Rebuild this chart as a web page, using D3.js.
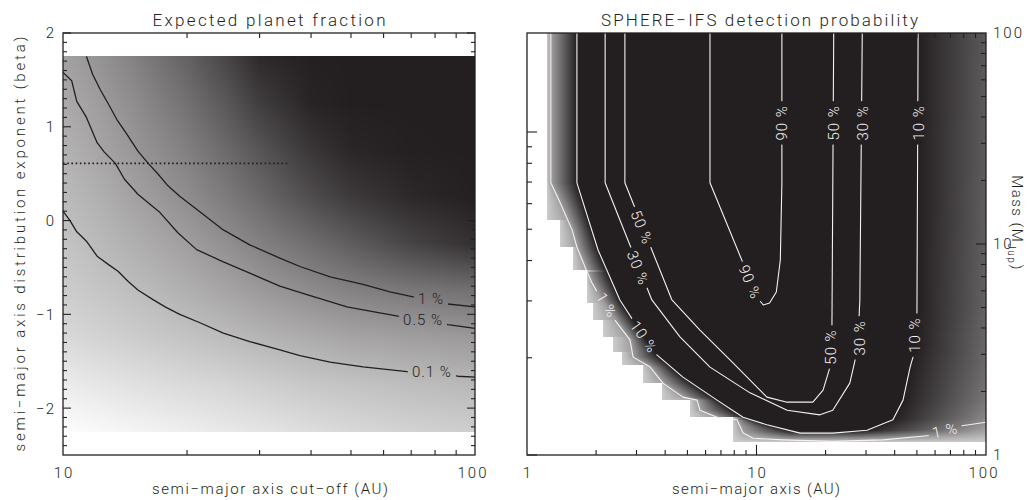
<!DOCTYPE html>
<html><head><meta charset="utf-8"><title>chart</title>
<script src="https://cdn.jsdelivr.net/npm/d3@7"></script>
<style>
html,body{margin:0;padding:0;background:#fff;}
svg{display:block}
text{font-family:Roboto,"Liberation Sans",Arial,sans-serif;font-weight:300;fill:#231f20}
</style></head><body>
<svg id="chart" width="1030" height="500"></svg>
<script>
// ===== Left panel: expected planet fraction =====
const fracAU = [10, 12, 15, 20, 25, 30, 40, 50, 70, 100];
const fracBeta = [1.75, 1.25, 0.75, 0.25, -0.25, -0.75, -1.25, -1.75, -2.25];
const fracShade = [
  [163,150,130,100, 72, 45, 36, 35, 35, 35],
  [172,160,142,115, 90, 65, 40, 35, 35, 35],
  [180,168,152,130,108, 88, 58, 42, 36, 35],
  [188,178,163,143,125,108, 80, 62, 44, 36],
  [197,188,176,160,145,132,112, 96, 72, 52],
  [206,199,190,177,166,156,142,132,122,115],
  [218,212,205,196,189,182,173,166,160,155],
  [236,231,225,218,213,208,200,196,190,185],
  [253,249,244,238,233,229,222,217,211,207]];
const frac1pct = [[11.4,1.75],[11.8,1.56],[12.3,1.40],[12.9,1.24],[13.5,1.08],[14.3,0.92],[15.2,0.74],[16.1,0.61],[16.9,0.51],[17.9,0.38],[19.2,0.26],[21.1,0.12],[24.5,-0.10],[28.4,-0.26],[33.6,-0.40],[37.6,-0.49],[44.5,-0.60],[53.5,-0.68],[62.2,-0.76],[70.3,-0.81],[78,-0.85],[85.9,-0.89],[100,-0.92]];
const frac05pct = [[10,1.58],[10.5,1.49],[10.8,1.27],[11.4,1.10],[12.1,0.83],[12.6,0.73],[13.4,0.61],[14.1,0.44],[15.2,0.28],[15.8,0.22],[17.2,0.085],[19.0,-0.13],[21.1,-0.31],[24.5,-0.44],[28.4,-0.56],[33.6,-0.70],[39.1,-0.79],[48.9,-0.92],[57.8,-0.98],[65.0,-1.02],[75,-1.06],[85.9,-1.11],[100,-1.15]];
const frac01pct = [[10,0.10],[10.4,0.0],[10.8,-0.12],[11.4,-0.22],[12.1,-0.38],[12.9,-0.47],[13.6,-0.54],[14.4,-0.65],[15.2,-0.74],[16.5,-0.84],[17.7,-0.92],[19.2,-1.00],[21.5,-1.09],[24.5,-1.20],[28.4,-1.29],[33.6,-1.38],[37.6,-1.44],[44.5,-1.51],[53.5,-1.56],[68.4,-1.61],[78,-1.63],[91,-1.66],[100,-1.67]];
const refBeta = 0.61;
const refAU = [10, 35.5];
const fracLabels = [["1 %",78.2,-0.83,0],["0.5 %",74.8,-1.06,0],["0.1 %",78.6,-1.61,0]];

// ===== Right panel: SPHERE-IFS detection probability =====
const det1 = [[1.27,100],[1.27,19.5],[1.39,15.8],[1.44,14.5],[1.57,11.7],[1.65,9.68],[1.79,7.78],[1.92,6.53],[2.08,5.61],[2.30,4.71],[2.47,4.22],[2.81,3.51],[2.90,2.91],[3.44,2.61],[3.91,2.19],[4.78,1.88],[5.51,1.82],[5.67,1.63],[6.73,1.51],[8.22,1.47],[8.74,1.27],[9.66,1.20],[13.0,1.18],[21.5,1.16],[35.6,1.18],[58.7,1.24],[66.3,1.30],[73.3,1.36],[100,1.43]];
const det10 = [[1.65,100],[1.65,19.5],[2.04,9.37],[2.54,5.43],[3.23,3.63],[3.68,2.98],[4.78,2.34],[6.73,1.82],[8.74,1.51],[11.1,1.39],[15.5,1.27],[21.5,1.27],[30.3,1.31],[39.3,1.47],[43.5,1.82],[46.7,2.61],[49.1,3.15],[50.0,4.36],[50.6,100]];
const det30 = [[2.19,100],[2.19,19.5],[2.54,13.0],[3.50,5.43],[4.64,3.63],[6.27,2.61],[9.37,1.97],[13.6,1.63],[18.9,1.55],[21.5,1.63],[25.5,2.19],[26.9,2.82],[27.7,3.51],[28.2,5.43],[28.9,100]];
const det50 = [[2.67,100],[2.67,19.5],[4.28,5.43],[5.67,3.91],[7.90,2.73],[11.1,1.88],[13.6,1.78],[17.6,1.78],[19.5,2.03],[20.9,2.61],[21.3,3.51],[21.7,100]];
const det90 = [[6.27,100],[6.27,19.5],[10.05,5.61],[10.7,5.14],[11.4,5.25],[12.2,5.92],[12.7,8.40],[12.9,19.5],[12.9,100]];
const detLabels = [
  ["1 %",2.23,5.14,58],["1 %",66.3,1.31,-12],
  ["10 %",3.23,3.63,55],["10 %",49.0,3.70,-90],["10 %",50.6,37.5,-90],
  ["30 %",3.05,7.70,68],["30 %",28.0,3.59,-90],["30 %",28.9,37.5,-90],
  ["50 %",3.17,12.0,68],["50 %",21.1,3.25,-90],["50 %",21.7,37.5,-90],
  ["90 %",9.37,6.61,67],["90 %",12.9,37.5,-90]];
// white (no-data) staircase: lower mass bound of each step and AU where data begins
const stairMassLo = [13.0, 9.68, 7.53, 5.25, 4.36, 3.63, 3.08, 2.67, 2.19, 1.82, 1.51, 1.15];
const stairEdgeAU = [1.22, 1.39, 1.59, 1.83, 1.94, 2.14, 2.37, 2.59, 3.20, 3.87, 5.13, 7.90];
// shade at the 100 AU edge vs mass
const rimMass = [100, 19.5, 5.25, 2.67, 1.82, 1.51, 1.39, 1.30, 1.15];
const rimShade = [92, 95, 100, 108, 120, 135, 150, 165, 200];
const edgeShade = 205, onePctShade = 160, blackShade = 35;

// tick values
const decadeMinor = [2,3,4,5,6,7,8,9,20,30,40,50,60,70,80,90];
const leftXLabels = [10, 100];
const betaMajor = [2, 1, 0, -1, -2];
const rightXLabels = [1, 10, 100];
const massLabels = [100, 10, 1];
const secMinor = [2,3,4,5,6,7,8,9];
const secMajor = [1, 10];

// ===== scales =====
const xL = d3.scaleLog().domain([10,100]).range([63,475]);
const yL = d3.scaleLinear().domain([-2.5,2.0]).range([455,33]);
const xR = d3.scaleLog().domain([1,100]).range([527,986]);
const yR = d3.scaleLog().domain([1,100]).range([455,33]);
const ySec = d3.scaleLog().domain([1,10]).range([455,132]);

const svg = d3.select("#chart");
const ink = "#231f20";
function rgbOf(g){ g=Math.max(35,Math.min(255,g)); const t=(g-35)/220;
  return [35+220*t, 31+224*t, 32+223*t]; }

// ===== left raster =====
(function(){
  const x0=Math.round(xL(10)), x1=Math.round(xL(100));
  const y0=Math.round(yL(fracBeta[0])), y1=Math.round(yL(fracBeta[fracBeta.length-1]));
  const w=x1-x0, h=y1-y0;
  const cv=document.createElement("canvas"); cv.width=w; cv.height=h;
  const ctx=cv.getContext("2d"); const img=ctx.createImageData(w,h);
  const lc=fracAU.map(Math.log10);
  for(let py=0;py<h;py++){
    const b=yL.invert(y0+py+0.5);
    let j=0; while(j<fracBeta.length-2 && b<fracBeta[j+1]) j++;
    let t=(fracBeta[j]-b)/(fracBeta[j]-fracBeta[j+1]); t=Math.max(0,Math.min(1,t));
    for(let px=0;px<w;px++){
      const la=Math.log10(xL.invert(x0+px+0.5));
      let i=0; while(i<lc.length-2 && la>lc[i+1]) i++;
      let u=(la-lc[i])/(lc[i+1]-lc[i]); u=Math.max(0,Math.min(1,u));
      const g=(fracShade[j][i]*(1-u)+fracShade[j][i+1]*u)*(1-t)+(fracShade[j+1][i]*(1-u)+fracShade[j+1][i+1]*u)*t;
      const c=rgbOf(g), k=(py*w+px)*4;
      img.data[k]=c[0]; img.data[k+1]=c[1]; img.data[k+2]=c[2]; img.data[k+3]=255;
    }
  }
  ctx.putImageData(img,0,0);
  svg.append("image").attr("x",x0).attr("y",y0).attr("width",w).attr("height",h)
    .attr("preserveAspectRatio","none").attr("href",cv.toDataURL());
})();

// ===== right raster =====
function cross(pts, M, side){
  const im=d3.minIndex(pts,d=>d[1]);
  const br= side==="L" ? pts.slice(0,im+1) : pts.slice(im);
  const lm=Math.log10(M);
  for(let k=0;k<br.length-1;k++){
    const m0=Math.log10(br[k][1]), m1=Math.log10(br[k+1][1]);
    if((lm<=m0&&lm>=m1)||(lm>=m0&&lm<=m1)){
      const a0=Math.log10(br[k][0]), a1=Math.log10(br[k+1][0]);
      if(m0===m1) return a0;
      return a0+(lm-m0)/(m1-m0)*(a1-a0);
    }
  }
  return null;
}
function interpLog(ms, vs, M){
  const lm=Math.log10(M);
  for(let k=0;k<ms.length-1;k++){
    const m0=Math.log10(ms[k]), m1=Math.log10(ms[k+1]);
    if(lm<=m0&&lm>=m1) return vs[k]+(lm-m0)/(m1-m0)*(vs[k+1]-vs[k]);
  }
  return lm>Math.log10(ms[0])?vs[0]:vs[vs.length-1];
}
(function(){
  const x0=Math.round(xR(1)), x1=Math.round(xR(100)), y0=Math.round(yR(100)), y1=Math.round(yR(1));
  const w=x1-x0, h=y1-y0;
  const cv=document.createElement("canvas"); cv.width=w; cv.height=h;
  const ctx=cv.getContext("2d"); const img=ctx.createImageData(w,h);
  const mBase=1.30, mMin=stairMassLo[stairMassLo.length-1];
  for(let py=0;py<h;py++){
    const M=yR.invert(y0+py+0.5);
    if(M<mMin) continue;
    let s=0; while(s<stairMassLo.length-1 && M<stairMassLo[s]) s++;
    const le=Math.log10(stairEdgeAU[s]);
    const Mp=Math.max(M,mBase);
    const c1=cross(det1,Mp,"L"), cL=cross(det10,Mp,"L"), cR=cross(det10,Mp,"R");
    const stops=[[le,edgeShade]];
    if(c1!==null && c1>le) stops.push([c1,onePctShade]);
    if(cL!==null){ stops.push([Math.max(cL,le+0.001),blackShade]); stops.push([cR,blackShade]); }
    stops.push([2,interpLog(rimMass,rimShade,Mp)]);
    let blend=0;
    if(M<mBase) blend=(Math.log10(mBase)-Math.log10(M))/(Math.log10(mBase)-Math.log10(mMin));
    for(let px=0;px<w;px++){
      const la=Math.log10(xR.invert(x0+px+0.5));
      if(la<le) continue;
      let g=stops[stops.length-1][1];
      for(let k=0;k<stops.length-1;k++){
        if(la<=stops[k+1][0]){ const d=stops[k+1][0]-stops[k][0];
          g= d<=0?stops[k+1][1]:stops[k][1]+(la-stops[k][0])/d*(stops[k+1][1]-stops[k][1]); break; }
      }
      g=g+(edgeShade-g)*blend;
      const c=rgbOf(g), k=(py*w+px)*4;
      img.data[k]=c[0]; img.data[k+1]=c[1]; img.data[k+2]=c[2]; img.data[k+3]=255;
    }
  }
  ctx.putImageData(img,0,0);
  svg.append("image").attr("x",x0).attr("y",y0).attr("width",w).attr("height",h)
    .attr("preserveAspectRatio","none").attr("href",cv.toDataURL());
})();

// ===== contours with label gaps =====
const defs=svg.append("defs");
function contourPanel(id, sets, labels, xs, ys, color, width){
  const mask=defs.append("mask").attr("id",id).attr("maskUnits","userSpaceOnUse")
    .attr("x",0).attr("y",0).attr("width",1030).attr("height",500);
  mask.append("rect").attr("width",1030).attr("height",500).attr("fill","white");
  const gl=svg.append("g").attr("mask",`url(#${id})`);
  const line=d3.line().x(d=>xs(d[0])).y(d=>ys(d[1]));
  gl.selectAll("path").data(sets).join("path").attr("d",line)
    .attr("fill","none").attr("stroke",color).attr("stroke-width",width).attr("stroke-linejoin","round");
  const gt=svg.append("g");
  labels.forEach(l=>{
    const tr=`translate(${xs(l[1])},${ys(l[2])}) rotate(${l[3]})`;
    const t=gt.append("text").attr("transform",tr).attr("text-anchor","middle").attr("dy","0.36em")
      .style("font-size","15px").style("letter-spacing","1px").style("fill",color).text(l[0]);
    const tw=t.node().getComputedTextLength();
    mask.append("rect").attr("transform",tr).attr("x",-tw/2-4).attr("y",-7).attr("width",tw+8).attr("height",14).attr("fill","black");
  });
}
contourPanel("mL",[frac1pct,frac05pct,frac01pct],fracLabels,xL,yL,ink,1.3);
svg.append("line").attr("x1",xL(refAU[0])).attr("x2",xL(refAU[1])).attr("y1",yL(refBeta)).attr("y2",yL(refBeta))
  .attr("stroke",ink).attr("stroke-width",1.6).attr("stroke-dasharray","1.6,2.6");
contourPanel("mR",[det1,det10,det30,det50,det90],detLabels,xR,yR,"#f2f2f2",1.1);

// ===== axes, ticks, frames =====
const ax=svg.append("g").attr("stroke",ink).attr("stroke-width",1.1);
function vt(vals,sc,y,len){ ax.append("g").selectAll("line").data(vals).join("line")
  .attr("x1",d=>sc(d)).attr("x2",d=>sc(d)).attr("y1",y).attr("y2",y+len); }
function ht(vals,sc,x,len){ ax.append("g").selectAll("line").data(vals).join("line")
  .attr("y1",d=>sc(d)).attr("y2",d=>sc(d)).attr("x1",x).attr("x2",x+len); }
// left panel
vt(decadeMinor.filter(d=>d>10),xL,455,-5); vt(decadeMinor.filter(d=>d>10),xL,33,5);
const betaMinor=d3.range(-24,20).map(i=>i/10).filter(v=>Math.abs(v-Math.round(v))>1e-6);
ht(betaMajor,yL,63,8); ht(betaMinor,yL,63,4);
ht(betaMajor,yL,475,-8); ht(betaMinor,yL,475,-4);
// right panel
vt(decadeMinor,xR,455,-5); vt([10],xR,455,-10);
vt(decadeMinor,xR,33,5); vt([10],xR,33,10);
ht(decadeMinor,yR,986,-5); ht([10],yR,986,-10);
ht(secMinor,ySec,527,5); ht(secMajor,ySec,527,10);
// frames
svg.append("rect").attr("x",63).attr("y",33).attr("width",412).attr("height",422)
  .attr("fill","none").attr("stroke",ink).attr("stroke-width",1.3);
svg.append("rect").attr("x",527).attr("y",33).attr("width",459).attr("height",422)
  .attr("fill","none").attr("stroke",ink).attr("stroke-width",1.3);

// ===== texts =====
const T=svg.append("g");
const fmtMinus=v=>String(v).replace("-","\u2212");
T.selectAll(".ly").data(betaMajor).join("text").attr("x",55).attr("y",d=>yL(d)).attr("dy","0.36em")
  .attr("text-anchor","end").style("font-size","15px").style("letter-spacing","1px").text(fmtMinus);
T.selectAll(".lx").data(leftXLabels).join("text").attr("x",d=>xL(d)-(d===100?3:0)+1).attr("y",478)
  .attr("text-anchor","middle").style("font-size","15px").style("letter-spacing","2px").text(d=>d);
T.selectAll(".rx").data(rightXLabels).join("text").attr("x",d=>xR(d)+1+(d===100?-3:0)).attr("y",478)
  .attr("text-anchor","middle").style("font-size","15px").style("letter-spacing","2px").text(d=>d);
T.selectAll(".ry").data(massLabels).join("text").attr("x",993).attr("y",d=>yR(d)).attr("dy","0.36em")
  .attr("text-anchor","start").style("font-size","15px").style("letter-spacing","2px").text(d=>d);
T.append("text").attr("x",269).attr("y",26).attr("text-anchor","middle").attr("textLength",233)
  .attr("lengthAdjust","spacing").style("font-size","17px").text("Expected planet fraction");
T.append("text").attr("x",759.5).attr("y",26).attr("text-anchor","middle").attr("textLength",317)
  .attr("lengthAdjust","spacing").style("font-size","17px").text("SPHERE\u2212IFS detection probability");
T.append("text").attr("x",270).attr("y",494).attr("text-anchor","middle").attr("textLength",236)
  .attr("lengthAdjust","spacing").style("font-size","15px").text("semi\u2212major axis cut\u2212off (AU)");
T.append("text").attr("x",756).attr("y",494).attr("text-anchor","middle").attr("textLength",168)
  .attr("lengthAdjust","spacing").style("font-size","15px").text("semi\u2212major axis (AU)");
T.append("text").attr("transform","translate(25,244) rotate(-90)").attr("text-anchor","middle")
  .attr("textLength",415).attr("lengthAdjust","spacing").style("font-size","15px")
  .text("semi\u2212major axis distribution exponent (beta)");
const mt=T.append("text").attr("transform","translate(1012,223) rotate(90)").attr("text-anchor","middle")
  .style("font-size","15px").style("letter-spacing","1.5px");
mt.append("tspan").text("Mass (M");
mt.append("tspan").attr("dy",4).style("font-size","10px").text("Jup");
mt.append("tspan").attr("dy",-4).text(")");
</script>
</body></html>
